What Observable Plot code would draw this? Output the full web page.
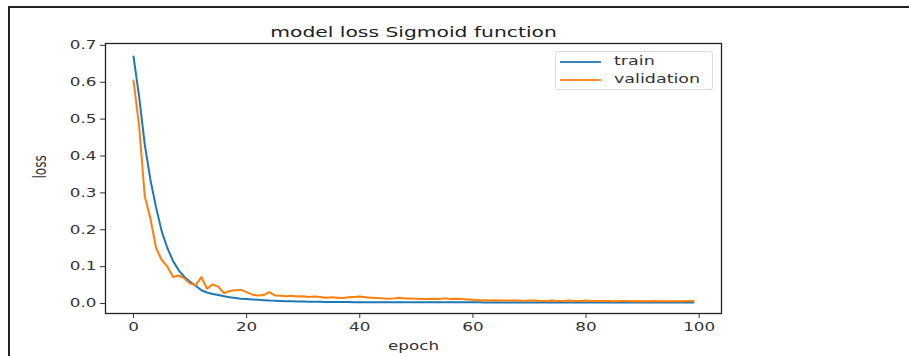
<!DOCTYPE html>
<html>
<head>
<meta charset="utf-8">
<script src="https://cdn.jsdelivr.net/npm/d3@7"></script>
<script src="https://cdn.jsdelivr.net/npm/@observablehq/plot@0.6"></script>
<style>
  html, body { margin: 0; padding: 0; background: #fff; }
  #wrap { position: relative; width: 909px; height: 356px; font-family: "DejaVu Sans", sans-serif; }
  #outer { position: absolute; left: 8px; top: 6px; right: 0; bottom: 0; border-top: 2px solid #222; border-left: 2px solid #222; pointer-events: none; }
  #legend { position: absolute; left: 555px; top: 51px; width: 156px; height: 37px; border: 1px solid #dcdcdc; border-radius: 3px; background: rgba(255,255,255,0.85); font-size: 12.5px; color: #333; }
  .lg { position: absolute; left: 4px; height: 0; width: 41px; border-top: 2px solid; opacity: 0.9; }
  .lt { position: absolute; left: 58px; line-height: 14px; transform: scaleX(1.4); transform-origin: left center; white-space: nowrap; }
</style>
</head>
<body>
<div id="wrap">
  <div id="chart"></div>
  <div id="outer"></div>
  <div id="legend"></div>
</div>
<script>
const titleText = "model loss Sigmoid function";
const xLabel = "epoch";
const yLabel = "loss";
const seriesNames = ["train", "validation"];
const seriesColors = ["#1f77b4", "#ff7f0e"];
const xTicks = [0, 20, 40, 60, 80, 100];
const yTicks = [0.0, 0.1, 0.2, 0.3, 0.4, 0.5, 0.6, 0.7];

const trainLoss = [
  0.670, 0.560, 0.430, 0.335, 0.260, 0.195, 0.150, 0.115, 0.090, 0.072,
  0.059, 0.048, 0.036, 0.030, 0.026, 0.023, 0.020, 0.017, 0.015, 0.013,
  0.012, 0.011, 0.010, 0.0090, 0.0080, 0.0075, 0.0070, 0.0065, 0.0060, 0.0056,
  0.0053, 0.0050, 0.0048, 0.0046, 0.0044, 0.0042, 0.0041, 0.0040, 0.0039, 0.0038,
  0.0037, 0.0037, 0.0036, 0.0036, 0.0035, 0.0035, 0.0035, 0.0034, 0.0034, 0.0034,
  0.0034, 0.0033, 0.0033, 0.0033, 0.0033, 0.0033, 0.0032, 0.0032, 0.0032, 0.0032,
  0.0032, 0.0032, 0.0031, 0.0031, 0.0031, 0.0031, 0.0031, 0.0031, 0.0031, 0.0031,
  0.0030, 0.0030, 0.0030, 0.0030, 0.0030, 0.0030, 0.0030, 0.0030, 0.0030, 0.0030,
  0.0030, 0.0030, 0.0029, 0.0029, 0.0029, 0.0029, 0.0029, 0.0029, 0.0029, 0.0029,
  0.0029, 0.0029, 0.0029, 0.0029, 0.0029, 0.0029, 0.0029, 0.0029, 0.0029, 0.0029
];
const valLoss = [
  0.605, 0.480, 0.290, 0.230, 0.150, 0.118, 0.100, 0.072, 0.076, 0.068,
  0.054, 0.050, 0.072, 0.040, 0.052, 0.046, 0.028, 0.034, 0.036, 0.037,
  0.031, 0.024, 0.022, 0.023, 0.031, 0.022, 0.021, 0.020, 0.021, 0.019,
  0.020, 0.018, 0.019, 0.018, 0.016, 0.017, 0.016, 0.015, 0.017, 0.018,
  0.019, 0.017, 0.016, 0.015, 0.014, 0.013, 0.014, 0.016, 0.014, 0.014,
  0.013, 0.012, 0.012, 0.013, 0.012, 0.014, 0.012, 0.013, 0.012, 0.011,
  0.010, 0.009, 0.009, 0.008, 0.009, 0.008, 0.008, 0.008, 0.008, 0.007,
  0.008, 0.008, 0.007, 0.007, 0.008, 0.007, 0.007, 0.008, 0.007, 0.007,
  0.008, 0.007, 0.007, 0.007, 0.007, 0.006, 0.007, 0.007, 0.006, 0.007,
  0.006, 0.006, 0.007, 0.006, 0.006, 0.006, 0.006, 0.006, 0.007, 0.007
];

const rows = [];
trainLoss.forEach((v, i) => rows.push({epoch: i, loss: v, series: seriesNames[0]}));
valLoss.forEach((v, i) => rows.push({epoch: i, loss: v, series: seriesNames[1]}));

const font = "DejaVu Sans, sans-serif";
const chart = Plot.plot({
  width: 909,
  height: 356,
  marginLeft: 105,
  marginRight: 188,
  marginTop: 43,
  marginBottom: 43,
  style: {fontFamily: font, fontSize: "12px", color: "#333", background: "#fff"},
  x: {domain: [-4.95, 103.95]},
  y: {domain: [-0.027, 0.705]},
  color: {domain: seriesNames, range: seriesColors},
  marks: [
    Plot.line(rows, {x: "epoch", y: "loss", stroke: "series", z: "series", strokeWidth: 2, strokeLinejoin: "round"}),
    Plot.frame({stroke: "#222", strokeWidth: 1.3}),
    Plot.axisX({ticks: xTicks, tickSize: 5, tickPadding: 4, label: null, tickFormat: d3.format("d"), fontSize: 12}),
    Plot.axisY({ticks: yTicks, tickSize: 5, tickPadding: 4, label: null, tickFormat: d3.format(".1f"), fontSize: 12}),
    Plot.text([titleText], {frameAnchor: "top", dy: -17, fontSize: 14.5, fill: "#222"}),
    Plot.text([xLabel], {frameAnchor: "bottom", dy: 36, fontSize: 12, fill: "#333"}),
    Plot.text([yLabel], {frameAnchor: "left", dx: -65, rotate: -90, fontSize: 12, fill: "#333"})
  ]
});
document.getElementById("chart").appendChild(chart);

// the reference's text is horizontally stretched: widen each label on screen about its anchor
const svgRoot = chart.tagName.toLowerCase() === "svg" ? chart : chart.querySelector("svg");
const NS = "http://www.w3.org/2000/svg";
Array.from(svgRoot.querySelectorAll("text")).forEach(el => {
  const bb = el.getBBox();
  const anchor = getComputedStyle(el).textAnchor;
  const lx = anchor === "end" ? bb.x + bb.width : anchor === "middle" ? bb.x + bb.width / 2 : bb.x;
  const ly = bb.y + bb.height / 2;
  const p = new DOMPoint(lx, ly).matrixTransform(el.getCTM());
  const g = document.createElementNS(NS, "g");
  el.parentNode.insertBefore(g, el);
  g.appendChild(el);
  const q = p.matrixTransform(g.parentNode.getCTM().inverse());
  g.setAttribute("transform", `translate(${q.x},${q.y}) scale(1.4,1) translate(${-q.x},${-q.y})`);
});

const legend = document.getElementById("legend");
seriesNames.forEach((name, i) => {
  const ln = document.createElement("div");
  ln.className = "lg";
  ln.style.top = (9 + i * 18) + "px";
  ln.style.borderTopColor = seriesColors[i];
  legend.appendChild(ln);
  const t = document.createElement("div");
  t.className = "lt";
  t.style.top = (2 + i * 18) + "px";
  t.textContent = name;
  legend.appendChild(t);
});
</script>
</body>
</html>
